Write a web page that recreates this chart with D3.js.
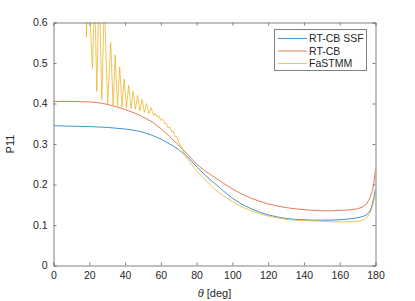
<!DOCTYPE html>
<html><head><meta charset="utf-8">
<script src="https://cdn.jsdelivr.net/npm/d3@7"></script>
<style>body{margin:0;background:#fff}svg{display:block}text{font-family:"Liberation Sans",Arial,sans-serif;fill:#262626}</style>
</head><body><svg id="c" width="415" height="301"></svg>
<script>
const seriesNames = ["RT-CB SSF", "RT-CB", "FaSTMM"];
const xTicks = [0,20,40,60,80,100,120,140,160,180];
const yTicks = [0,0.1,0.2,0.3,0.4,0.5,0.6];

const ssfTheta = [0,10,20,30,40,45,50,55,60,65,70,75,80,85,90,93,95,100,105,110,115,120,125,130,135,140,145,150,155,160,165,170,173,175,177,178,179,180];
const ssfVal   = [0.345,0.344,0.343,0.341,0.337,0.334,0.329,0.322,0.312,0.300,0.286,0.268,0.244,0.222,0.203,0.192,0.184,0.166,0.152,0.141,0.132,0.125,0.120,0.116,0.114,0.113,0.112,0.112,0.112,0.113,0.115,0.118,0.121,0.125,0.135,0.148,0.165,0.190];

const cbTheta = [0,10,20,25,30,35,40,45,50,55,60,65,70,75,80,85,90,95,100,105,110,115,120,125,130,135,140,145,150,155,160,165,170,173,175,177,178,179,180];
const cbVal   = [0.405,0.405,0.404,0.402,0.398,0.392,0.385,0.377,0.367,0.355,0.338,0.318,0.297,0.274,0.250,0.233,0.218,0.203,0.189,0.177,0.167,0.159,0.152,0.147,0.143,0.140,0.138,0.136,0.135,0.135,0.136,0.137,0.140,0.145,0.152,0.168,0.180,0.200,0.238];

const fsTheta = [17.5,18.4,19.5,21.8,23,24.2,25.5,27,28.4,30.3,32,33.3,34.5,35.8,37,38.3,39.5,40.8,42,43.3,44.5,45.8,47,48.3,49.5,50.8,52,53.3,54.5,56,57,58,59,60,61,62,63,64,65,66,67,68,69,70,72,74,76,78,80,82,85,88,90,93,95,100,105,110,115,120,125,130,135,140,145,150,155,160,165,170,172,174,176,177,178,179,180];
const fsVal   = [0.900,0.564,0.700,0.485,0.680,0.430,0.700,0.410,0.650,0.400,0.550,0.396,0.520,0.393,0.490,0.392,0.460,0.390,0.445,0.388,0.430,0.386,0.420,0.382,0.410,0.378,0.400,0.375,0.390,0.370,0.376,0.366,0.370,0.358,0.362,0.350,0.352,0.340,0.342,0.330,0.331,0.318,0.318,0.304,0.288,0.268,0.256,0.245,0.234,0.224,0.210,0.197,0.189,0.178,0.172,0.158,0.145,0.136,0.128,0.122,0.118,0.114,0.112,0.111,0.110,0.109,0.108,0.108,0.108,0.109,0.111,0.115,0.122,0.130,0.142,0.158,0.180];

const colors = ["#0072BD","#D95319","#EDB120"];

const svg = d3.select("#c");
const L=53.5, R=375.5, T=22.5, B=265.5;
const x = d3.scaleLinear().domain([0,180]).range([L,R]);
const y = d3.scaleLinear().domain([0,0.6]).range([B,T]);

svg.append("defs").append("clipPath").attr("id","clip").append("rect")
  .attr("x",L).attr("y",T).attr("width",R-L).attr("height",B-T);

const series = [
  {theta: ssfTheta, val: ssfVal},
  {theta: cbTheta, val: cbVal},
  {theta: fsTheta, val: fsVal}
];
const line = d3.line().x(d=>x(d[0])).y(d=>y(d[1]));
const g = svg.append("g").attr("clip-path","url(#clip)");
series.forEach((s,i)=>{
  g.append("path").datum(d3.zip(s.theta,s.val))
   .attr("d",line).attr("fill","none").attr("stroke",colors[i])
   .attr("stroke-width",1).attr("stroke-opacity",0.75);
});

const axColor="#808080";
const axB = svg.append("g").attr("transform",`translate(0,${B})`)
  .call(d3.axisBottom(x).tickValues(xTicks).tickSize(-3).tickPadding(6).tickFormat(d3.format("d")));
const axT = svg.append("g").attr("transform",`translate(0,${T})`)
  .call(d3.axisTop(x).tickValues(xTicks).tickSize(-3).tickFormat(""));
const axL = svg.append("g").attr("transform",`translate(${L},0)`)
  .call(d3.axisLeft(y).tickValues(yTicks).tickSize(-3).tickPadding(6).tickFormat(d=>d===0?"0":d3.format(".1f")(d)));
const axR = svg.append("g").attr("transform",`translate(${R},0)`)
  .call(d3.axisRight(y).tickValues(yTicks).tickSize(-3).tickFormat(""));
[axB,axT,axL,axR].forEach(a=>{
  a.select(".domain").attr("stroke",axColor);
  a.selectAll(".tick line").attr("stroke",axColor);
  a.selectAll("text").attr("font-size",10.5).attr("fill","#262626").attr("font-family","Liberation Sans, Arial, sans-serif");
});

const xl = svg.append("text").attr("x",(L+R)/2).attr("y",297).attr("text-anchor","middle").attr("font-size",11);
xl.append("tspan").attr("font-style","italic").text("θ");
xl.append("tspan").text(" [deg]");
svg.append("text").attr("transform",`translate(14,${(T+B)/2}) rotate(-90)`).attr("text-anchor","middle").attr("font-size",11).text("P11");

const lg = svg.append("g");
lg.append("rect").attr("x",274.5).attr("y",29.5).attr("width",92).attr("height",41)
  .attr("fill","#fff").attr("stroke",axColor);
seriesNames.forEach((n,i)=>{
  const yy = 38.5 + i*12.5;
  lg.append("line").attr("x1",278).attr("x2",307).attr("y1",yy).attr("y2",yy)
    .attr("stroke",colors[i]).attr("stroke-width",1).attr("stroke-opacity",0.75);
  lg.append("text").attr("x",309).attr("y",yy+3.8).attr("font-size",10.5).text(n);
});
</script></body></html>
